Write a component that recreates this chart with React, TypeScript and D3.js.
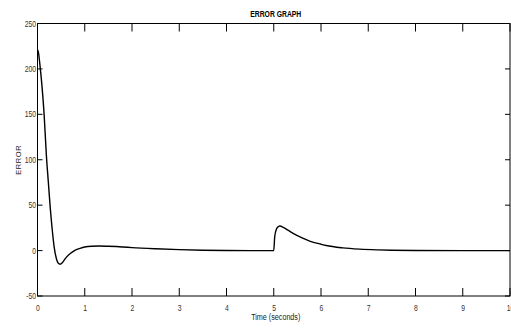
import React from "react";
import * as d3 from "d3";

const W = 511;
const H = 331;
const margin = { top: 23.5, right: 1, bottom: 35, left: 37.5 };
const innerW = W - margin.left - margin.right;
const innerH = H - margin.top - margin.bottom;

const timeValues = [
  0, 0.02, 0.05, 0.1, 0.14, 0.19, 0.23, 0.27, 0.31, 0.35, 0.4, 0.44, 0.48, 0.53, 0.6,
  0.7, 0.8, 0.9, 1.0, 1.15, 1.3, 1.5, 1.8, 2.0, 2.5, 3.0, 3.5, 4.0, 4.5, 5.0, 5.02,
  5.06, 5.1, 5.13, 5.2, 5.3, 5.41, 5.6, 5.76, 6.0, 6.11, 6.46, 6.82, 7.2, 7.5, 8.0,
  9.0, 10.0,
];
const errorValues = [
  221, 218, 205, 178, 150, 103, 75, 47, 24, 5, -9, -14, -15, -13, -8, -3, 0.5, 2.5,
  4, 4.8, 5, 4.7, 4, 3.3, 2, 1, 0.4, 0.1, 0, 0, 15, 24, 26.5, 27, 25.5, 22.5, 19,
  14, 10.5, 7, 5.6, 3, 1.6, 0.8, 0.4, 0.1, 0, 0,
];
const xTicks = [0, 1, 2, 3, 4, 5, 6, 7, 8, 9, 10];
const yTicks = [-50, 0, 50, 100, 150, 200, 250];

const font = '"Liberation Sans", Arial, sans-serif';
const squeeze = 0.8; // fake a narrow face

const App = () => {
  const x = d3.scaleLinear().domain([0, 10]).range([0, innerW]);
  const y = d3.scaleLinear().domain([-50, 250]).range([innerH, 0]);

  const pts: [number, number][] = timeValues.map((t, i) => [t, errorValues[i]]);
  const line = d3
    .line<[number, number]>()
    .x((d) => x(d[0]))
    .y((d) => y(d[1]))
    .curve(d3.curveMonotoneX);

  return (
    <svg
      width={W}
      height={H}
      style={{ position: "absolute", left: 0, top: 0, background: "white" }}
    >
      <g transform={`translate(${margin.left},${margin.top})`}>
        <path d={line(pts) || ""} fill="none" stroke="#000" strokeWidth={1.4} />
        <rect
          x={0}
          y={0}
          width={innerW}
          height={innerH}
          fill="none"
          stroke="#000"
          strokeWidth={1}
        />
        {xTicks.map((t) => (
          <g key={t} transform={`translate(${x(t)},0)`}>
            <line y1={0} y2={8} stroke="#000" />
            <line y1={innerH} y2={innerH - 8} stroke="#000" />
            <text
              transform={`translate(0.5,${innerH + 14.5}) scale(${squeeze},1)`}
              textAnchor="middle"
              fontFamily={font}
              fontSize={8.5}
              fill="#333"
            >
              {t}
            </text>
          </g>
        ))}
        {yTicks.map((t) => (
          <g key={t} transform={`translate(0,${y(t)})`}>
            <line x1={0} x2={5} stroke="#000" />
            <line x1={innerW} x2={innerW - 5} stroke="#000" />
            <text
              transform={`translate(-1.5,3) scale(${squeeze},1)`}
              textAnchor="end"
              fontFamily={font}
              fontSize={8.5}
              fill="#333"
            >
              {t}
            </text>
          </g>
        ))}
        <text
          transform={`translate(${innerW / 2 + 2},-7) scale(${squeeze},1)`}
          textAnchor="middle"
          fontFamily={font}
          fontWeight="bold"
          fontSize={8.5}
          fill="#000"
        >
          ERROR GRAPH
        </text>
        <text
          transform={`translate(${innerW / 2 + 2},${innerH + 23.5}) scale(${squeeze},1)`}
          textAnchor="middle"
          fontFamily={font}
          fontSize={9}
          fill="#222"
        >
          Time (seconds)
        </text>
        <text
          transform={`translate(${20.5 - margin.left},${innerH / 2}) rotate(-90)`}
          textAnchor="middle"
          fontFamily={font}
          fontSize={7.5}
          letterSpacing={0.6}
          fill="#222"
        >
          ERROR
        </text>
      </g>
    </svg>
  );
};

export default App;
